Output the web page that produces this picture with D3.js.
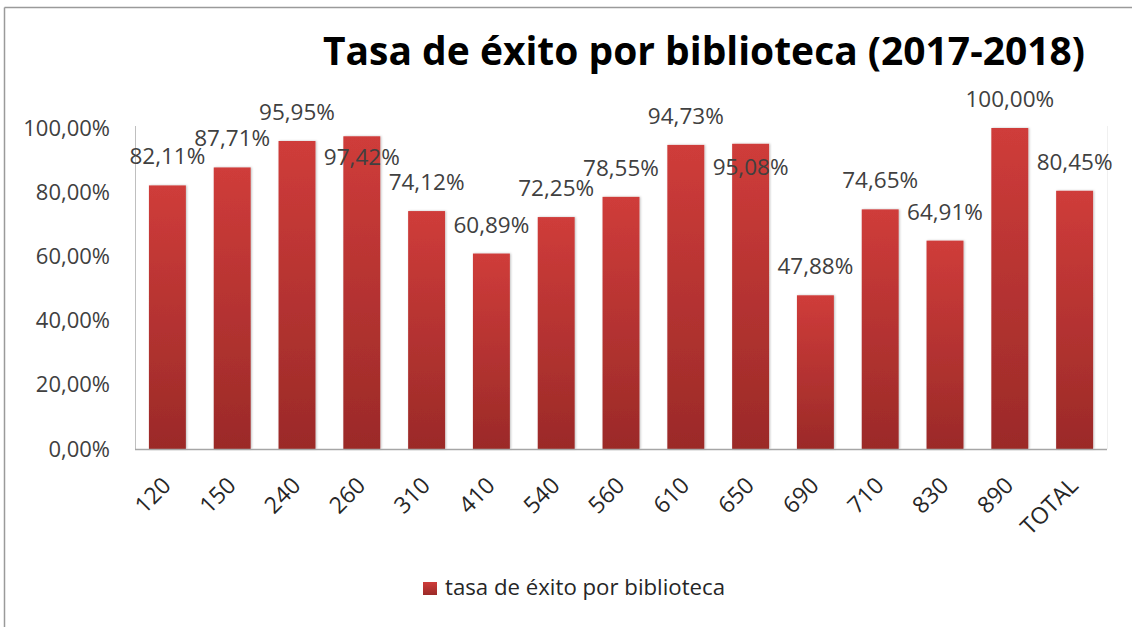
<!DOCTYPE html>
<html><head><meta charset="utf-8">
<script src="https://cdn.jsdelivr.net/npm/d3@7"></script>
<style>body{margin:0;background:#fff;}svg{display:block;font-family:"Open Sans",sans-serif;}</style>
</head><body><svg id="c" width="1132" height="627"></svg>
<script>
const categories = ["120","150","240","260","310","410","540","560","610","650","690","710","830","890","TOTAL"];
const values = [0.8211,0.8771,0.9595,0.9742,0.7412,0.6089,0.7225,0.7855,0.9473,0.9508,0.4788,0.7465,0.6491,1.0,0.8045];
const yTicks = [0,0.2,0.4,0.6,0.8,1.0];
const seriesName = "tasa de éxito por biblioteca";
const title = "Tasa de éxito por biblioteca (2017-2018)";
// manual label displacement (px) for labels moved in the original
const labelShift = [0,0,0,50,0,0,0,0,0,52,0,0,0,0,0];

const svg = d3.select("#c");
const locale = d3.formatLocale({decimal:",",thousands:".",grouping:[3],currency:["","€"]});
const fmt = locale.format(".2%");

const m = {left:135, right:1107, top:128, bottom:449};
const x = d3.scaleBand().domain(categories).range([m.left,m.right]).paddingInner(0.43).paddingOuter(0.215);
const y = d3.scaleLinear().domain([0,1]).range([m.bottom,m.top]);

const defs = svg.append("defs");
const g = defs.append("linearGradient").attr("id","barGrad").attr("x1",0).attr("y1",0).attr("x2",0).attr("y2",1);
g.append("stop").attr("offset","0%").attr("stop-color","#cf3c3a");
g.append("stop").attr("offset","100%").attr("stop-color","#9b2a28");
const f = defs.append("filter").attr("id","sh").attr("x","-20%").attr("y","-5%").attr("width","140%").attr("height","110%");
f.append("feDropShadow").attr("dx",1).attr("dy",0).attr("stdDeviation",1).attr("flood-color","#000").attr("flood-opacity",0.25);

// border
svg.append("line").attr("x1",4.5).attr("y1",7.5).attr("x2",1132).attr("y2",7.5).attr("stroke","#9a9a9a").attr("stroke-width",1.5);
svg.append("line").attr("x1",4.5).attr("y1",7.5).attr("x2",4.5).attr("y2",627).attr("stroke","#9a9a9a").attr("stroke-width",1.5);

// title
svg.append("text").attr("x",323).attr("y",65).attr("font-size",40).attr("font-weight",700).attr("fill","#000")
  .attr("textLength",762).attr("lengthAdjust","spacingAndGlyphs").text(title);

// faint plot right edge
svg.append("line").attr("x1",m.right+0.5).attr("x2",m.right+0.5).attr("y1",m.top-2).attr("y2",m.bottom).attr("stroke","#f0f0f0");

// y axis
const yAxis = d3.axisLeft(y).tickValues(yTicks).tickFormat(fmt).tickSize(0).tickPadding(25);
const ya = svg.append("g").attr("transform",`translate(${m.left},0)`).call(yAxis);
ya.select(".domain").attr("stroke","#bfbfbf").attr("d",`M0.5,${m.top-2}V${m.bottom}`);
ya.selectAll("text").attr("font-size",22).attr("fill","#404040").attr("font-family","'Open Sans',sans-serif");

// bars
svg.append("g").selectAll("rect").data(values).join("rect")
  .attr("x",(d,i)=>x(categories[i])).attr("width",x.bandwidth())
  .attr("y",d=>y(d)).attr("height",d=>y(0)-y(d))
  .attr("fill","url(#barGrad)").attr("filter","url(#sh)");

// x axis
const xAxis = d3.axisBottom(x).tickSize(0).tickPadding(0);
const xa = svg.append("g").attr("transform",`translate(0,${m.bottom})`).call(xAxis);
xa.select(".domain").attr("stroke","#a6a6a6").attr("stroke-width",1.5).attr("d",`M${m.left},0.5H${m.right}`);
xa.selectAll("text").attr("font-size",23).attr("fill","#262626").attr("font-family","'Open Sans',sans-serif")
  .attr("text-anchor","end").attr("dy",null).attr("y",null)
  .attr("transform","translate(5,38) rotate(-45)");

// data labels
svg.append("g").selectAll("text").data(values).join("text")
  .attr("x",(d,i)=>x(categories[i])+x.bandwidth()/2)
  .attr("y",(d,i)=>y(d)-21+labelShift[i])
  .attr("text-anchor","middle").attr("font-size",22.5).attr("fill","#404040")
  .text(d=>fmt(d));

// legend
const lg = svg.append("g");
lg.append("rect").attr("x",423).attr("y",582).attr("width",14).attr("height",13).attr("fill","url(#barGrad)");
lg.append("text").attr("x",445).attr("y",595).attr("font-size",21).attr("fill","#262626")
  .attr("textLength",280).attr("lengthAdjust","spacingAndGlyphs").text(seriesName);
</script></body></html>
